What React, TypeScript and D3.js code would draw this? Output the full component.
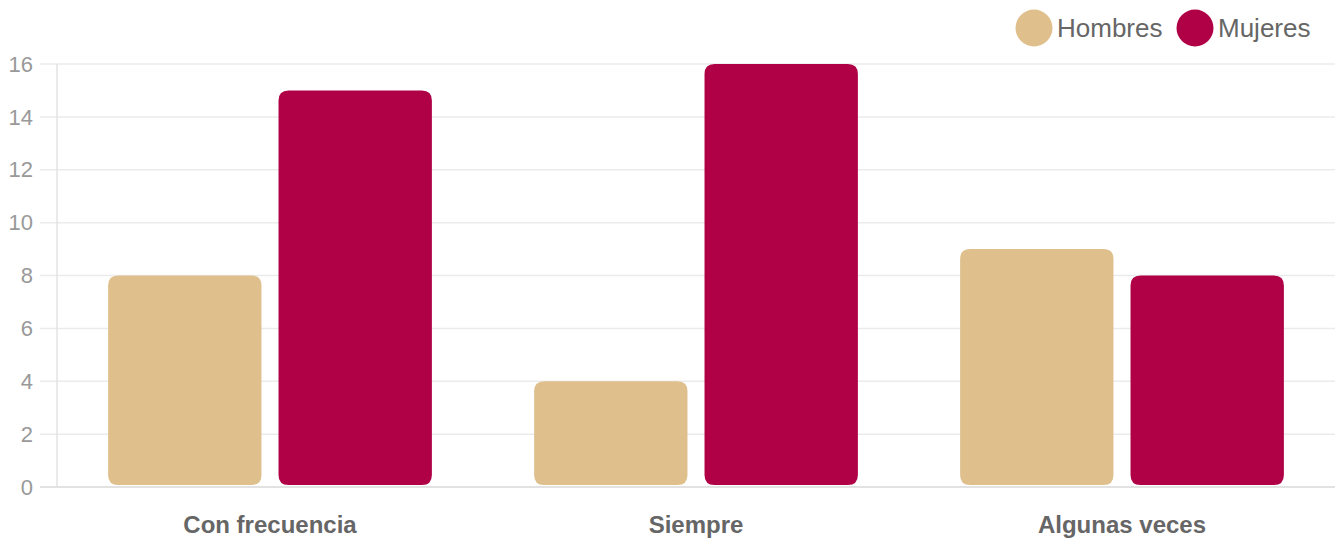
import React from "react";
import * as d3 from "d3";

const categories = ["Con frecuencia", "Siempre", "Algunas veces"];
const seriesNames = ["Hombres", "Mujeres"];
const hombres = [8, 4, 9];
const mujeres = [15, 16, 8];
const yTicks = [0, 2, 4, 6, 8, 10, 12, 14, 16];
const colors = ["#dfc08d", "#b00046"];

const W = 1338;
const H = 542;
const left = 57;
const right = 1335;
const top = 64;
const bottom = 487;

function roundedRect(x: number, y: number, w: number, h: number, r: number) {
  const rr = Math.min(r, w / 2, h / 2);
  return `M${x + rr},${y}H${x + w - rr}Q${x + w},${y} ${x + w},${y + rr}V${y + h - rr}Q${x + w},${y + h} ${x + w - rr},${y + h}H${x + rr}Q${x},${y + h} ${x},${y + h - rr}V${y + rr}Q${x},${y} ${x + rr},${y}Z`;
}

export default function App() {
  const x0 = d3.scaleBand<string>().domain(categories).range([left, right]).padding(0);
  const bw = x0.bandwidth();
  const x1 = d3
    .scaleBand<string>()
    .domain(seriesNames)
    .range([bw * 0.1, bw * 0.9])
    .padding(0);
  const slot = x1.bandwidth();
  const barW = slot * 0.9;
  const y = d3.scaleLinear().domain([0, 16]).range([bottom, top]);
  const data = [hombres, mujeres];
  const font = "Helvetica, Arial, 'Liberation Sans', sans-serif";

  return (
    <svg width={W} height={H} style={{ position: "absolute", left: 0, top: 0 }} fontFamily={font}>
      {yTicks.map((t) => (
        <g key={t}>
          <line x1={40} x2={1335} y1={y(t)} y2={y(t)} stroke={t === 0 ? "#d9d9d9" : "#ebebeb"} strokeWidth={1.5} />
          <text x={33} y={y(t)} dy="0.35em" textAnchor="end" fontSize={22} fill="#999">
            {t}
          </text>
        </g>
      ))}
      <line x1={left} x2={left} y1={top} y2={bottom} stroke="#e3e3e3" strokeWidth={1.5} />
      {categories.map((c, i) => (
        <g key={c}>
          {seriesNames.map((s, j) => {
            const cx = (x0(c) as number) + (x1(s) as number) + slot / 2;
            const v = data[j][i];
            const yt = y(v);
            return (
              <path
                key={s}
                d={roundedRect(cx - barW / 2, yt, barW, bottom - 2 - yt, 10)}
                fill={colors[j]}
              />
            );
          })}
          <text
            x={(x0(c) as number) + bw / 2}
            y={533}
            textAnchor="middle"
            fontSize={24}
            fontWeight="bold"
            fill="#666"
          >
            {c}
          </text>
        </g>
      ))}
      {seriesNames.map((s, j) => {
        const lx = [1034, 1195][j];
        return (
          <g key={s}>
            <circle cx={lx} cy={28} r={18.5} fill={colors[j]} />
            <text x={lx + 23} y={37} fontSize={26} fill="#666">
              {s}
            </text>
          </g>
        );
      })}
    </svg>
  );
}
